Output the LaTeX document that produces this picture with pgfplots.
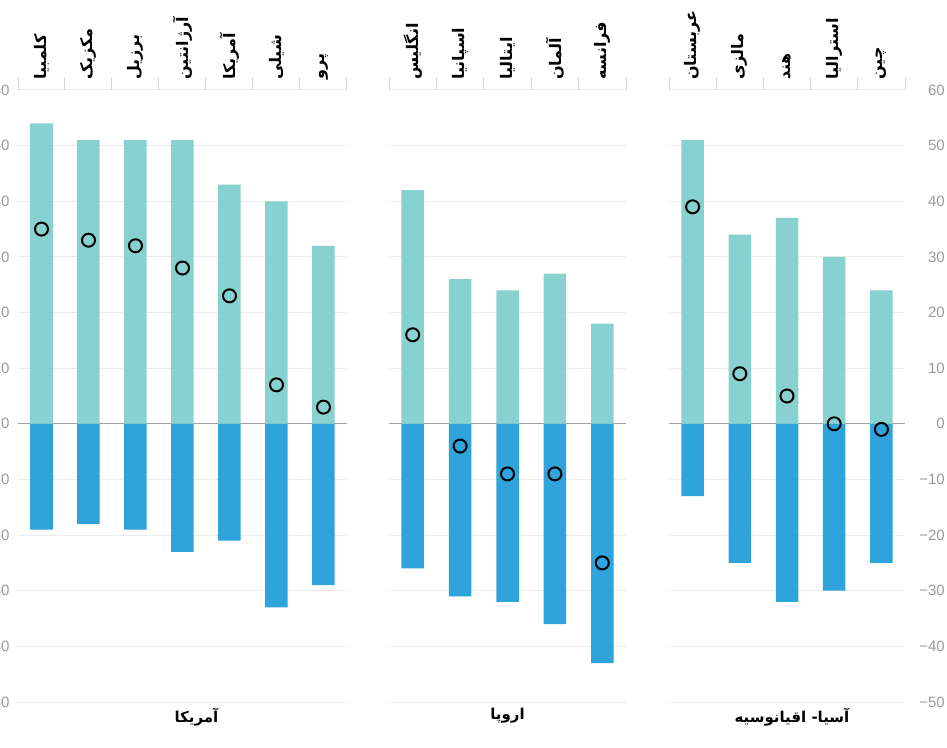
\documentclass[border=0pt]{standalone}
\usepackage{pgfplots}
\pgfplotsset{compat=1.18}
\usepackage{fontspec}
\setmainfont{Liberation Sans}
\newfontfamily\arabicfont[Script=Arabic]{DejaVu Sans}
\TeXXeTstate=1
\newcommand{\fa}[1]{{\arabicfont\beginR #1\endR}}

\definecolor{pos}{HTML}{88D1D1}
\definecolor{neg}{HTML}{2EA3DC}
\definecolor{gridc}{HTML}{EBEBEB}
\definecolor{sepc}{HTML}{D6D6D6}
\definecolor{zeroc}{HTML}{A0A0A0}
\definecolor{tickc}{HTML}{9A9A9A}

\pgfplotsset{
  panel/.style={
    scale only axis,
    height=612pt,
    ymin=-50, ymax=60,
    ytick={-50,-40,...,60},
    yticklabels={−50,−40,−30,−20,−10,0,10,20,30,40,50,60},
    yticklabel style={font=\fontsize{15}{15}\selectfont, text=tickc},
    ymajorgrids,
    major grid style={draw=gridc, line width=1pt},
    extra y ticks={0},
    extra y tick labels={},
    extra y tick style={grid=major, major grid style={draw=zeroc, line width=1pt}},
    axis line style={draw=none},
    xtick pos=upper, xticklabel pos=upper,
    tick align=outside,
    major tick length=0pt,
    minor tick length=13pt,
    minor x tick style={draw=sepc, line width=1pt},
    xticklabel style={rotate=90, anchor=west, inner xsep=10pt, inner ysep=0pt,
      font=\fontsize{16}{16}\selectfont\bfseries},
    xlabel style={at={(axis description cs:0.5,0)}, anchor=north, yshift=-3pt,
      font=\fontsize{15}{15}\selectfont\bfseries},
    clip=false,
  },
  pbar/.style={ybar, bar width=22.5pt, bar shift=0pt, draw=none, fill=pos},
  nbar/.style={ybar, bar width=22.5pt, bar shift=0pt, draw=none, fill=neg},
  net/.style={only marks, mark=o, mark size=6.5pt, mark options={line width=2pt, draw=black}},
}

\begin{document}
\begin{tikzpicture}
% Americas
\begin{axis}[panel,
  at={(18pt,45pt)}, anchor=south west, width=329pt,
  xmin=-0.5, xmax=6.5,
  xtick={0,...,6},
  minor xtick={-0.5,0.5,...,6.5},
  xticklabels={\fa{کلمبیا},\fa{مکزیک},\fa{برزیل},\fa{آرژانتین},\fa{آمریکا},\fa{شیلی},\fa{پرو}},
  yticklabel pos=left,
  yticklabel style={anchor=east, xshift=-5pt},
  xlabel={\fa{آمریکا}}, xlabel style={xshift=14pt},
]
\addplot[pbar] coordinates {(0,54) (1,51) (2,51) (3,51) (4,43) (5,40) (6,32)};
\addplot[nbar] coordinates {(0,-19) (1,-18) (2,-19) (3,-23) (4,-21) (5,-33) (6,-29)};
\addplot[net] coordinates {(0,35) (1,33) (2,32) (3,28) (4,23) (5,7) (6,3)};
\end{axis}
% Europe
\begin{axis}[panel,
  at={(389pt,45pt)}, anchor=south west, width=237pt,
  xmin=-0.5, xmax=4.5,
  xtick={0,...,4},
  minor xtick={-0.5,0.5,...,4.5},
  xticklabels={\fa{انگلیس},\fa{اسپانیا},\fa{ایتالیا},\fa{آلمان},\fa{فرانسه}},
  yticklabels={},
  xlabel={\fa{اروپا}},
]
\addplot[pbar] coordinates {(0,42) (1,26) (2,24) (3,27) (4,18)};
\addplot[nbar] coordinates {(0,-26) (1,-31) (2,-32) (3,-36) (4,-43)};
\addplot[net] coordinates {(0,16) (1,-4) (2,-9) (3,-9) (4,-25)};
\end{axis}
% Asia-Oceania
\begin{axis}[panel,
  at={(669pt,45pt)}, anchor=south west, width=236pt,
  xmin=-0.5, xmax=4.5,
  xtick={0,...,4},
  minor xtick={-0.5,0.5,...,4.5},
  xticklabels={\fa{عربستان},\fa{مالزی},\fa{هند},\fa{استرالیا},\fa{چین}},
  yticklabel pos=right,
  yticklabel style={anchor=east, inner xsep=0pt, xshift=40pt},
  xlabel={\fa{آسیا- اقیانوسیه}}, xlabel style={xshift=5pt},
]
\addplot[pbar] coordinates {(0,51) (1,34) (2,37) (3,30) (4,24)};
\addplot[nbar] coordinates {(0,-13) (1,-25) (2,-32) (3,-30) (4,-25)};
\addplot[net] coordinates {(0,39) (1,9) (2,5) (3,0) (4,-1)};
\end{axis}
\pgfresetboundingbox
\path[use as bounding box] (0,0) rectangle (947pt,747pt);
\end{tikzpicture}
\end{document}
